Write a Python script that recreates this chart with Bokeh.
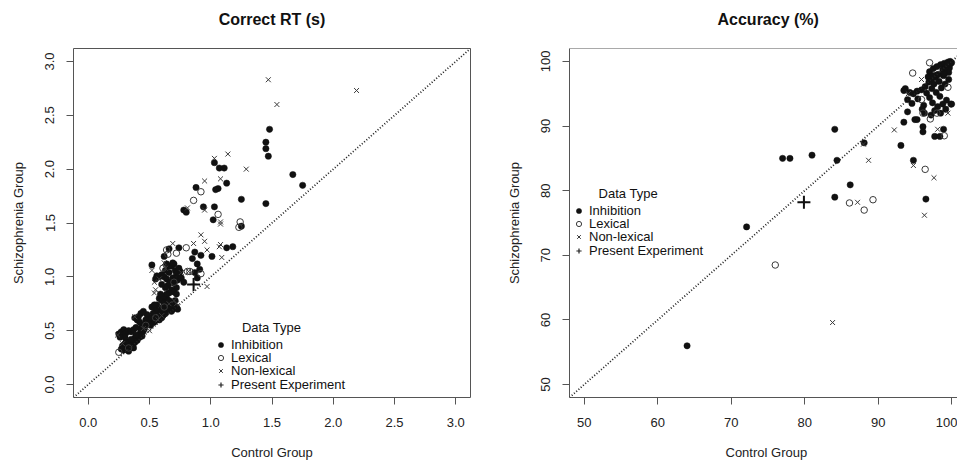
from bokeh.plotting import figure
from bokeh.layouts import row
from bokeh.models import (Range1d, Slope, Legend, LegendItem, Label, Span, Title,
                          FixedTicker, NumeralTickFormatter)
from bokeh.embed import file_html
from bokeh.resources import INLINE

FONT = "Liberation Sans"
FRAME = "#555555"
DOT = "#111111"
OPEN = "#3a3a3a"

# ---------------- data: Correct RT (s) ----------------
rt_inhibition = [
    (1.48, 2.37), (1.45, 2.25), (1.45, 2.19), (1.47, 2.12), (1.67, 1.95), (1.75, 1.85), (1.45, 1.68),
    (1.25, 1.72), (1.25, 1.47), (1.03, 2.06), (1.07, 2.01), (1.11, 2.01), (1.13, 1.87), (1.06, 1.82),
    (1.04, 1.81), (0.88, 1.83), (1.03, 1.65), (0.94, 1.65), (0.78, 1.62), (0.80, 1.60), (1.02, 1.53),
    (1.13, 1.27), (1.18, 1.28), (0.74, 1.27), (0.85, 1.17), (0.92, 1.20), (1.01, 1.19), (0.87, 1.23),
    (0.89, 1.12), (0.91, 1.07), (0.87, 1.04), (0.89, 0.99), (0.52, 1.11), (0.66, 1.26), (0.62, 1.19),
    (0.60, 1.02), (0.62, 1.00), (0.64, 0.98), (0.66, 1.04), (0.68, 1.10), (0.70, 1.12), (0.71, 1.06),
    (0.72, 1.03), (0.69, 0.99), (0.67, 0.95), (0.65, 0.92), (0.70, 0.94), (0.73, 0.97), (0.74, 1.02),
    (0.75, 1.05), (0.76, 0.99), (0.72, 0.90), (0.68, 0.88), (0.63, 0.90), (0.58, 1.00), (0.56, 1.01),
    (0.66, 1.10), (0.74, 1.08), (0.78, 0.95), (0.70, 0.86), (0.72, 0.84), (0.66, 0.85), (0.60, 0.93),
    (0.63, 1.06), (0.55, 0.98), (0.69, 1.13), (0.71, 0.97), (0.64, 1.12),
    (0.58, 0.80), (0.60, 0.78), (0.62, 0.76), (0.64, 0.80), (0.66, 0.78), (0.68, 0.76), (0.70, 0.74),
    (0.72, 0.72), (0.61, 0.72), (0.63, 0.70), (0.65, 0.73), (0.67, 0.71), (0.69, 0.70), (0.57, 0.68),
    (0.59, 0.66), (0.61, 0.64), (0.63, 0.66), (0.55, 0.70), (0.53, 0.66), (0.56, 0.62), (0.58, 0.60),
    (0.60, 0.62), (0.52, 0.60), (0.54, 0.58), (0.50, 0.62), (0.48, 0.65), (0.47, 0.60), (0.49, 0.57),
    (0.51, 0.55), (0.46, 0.56), (0.44, 0.54), (0.56, 0.74), (0.62, 0.82), (0.64, 0.84), (0.59, 0.84),
    (0.66, 0.70), (0.68, 0.68), (0.73, 0.70), (0.71, 0.78), (0.60, 0.70), (0.43, 0.66), (0.45, 0.68),
    (0.41, 0.63), (0.38, 0.62), (0.40, 0.60), (0.42, 0.58), (0.52, 0.72), (0.54, 0.74),
    (0.27, 0.33), (0.29, 0.32), (0.30, 0.35), (0.31, 0.34), (0.32, 0.37), (0.33, 0.36), (0.34, 0.39),
    (0.35, 0.38), (0.36, 0.41), (0.37, 0.40), (0.38, 0.43), (0.39, 0.42), (0.40, 0.45), (0.41, 0.44),
    (0.42, 0.47), (0.43, 0.46), (0.44, 0.49), (0.45, 0.50), (0.46, 0.52), (0.28, 0.36), (0.30, 0.38),
    (0.32, 0.33), (0.34, 0.35), (0.36, 0.37), (0.38, 0.39), (0.40, 0.41), (0.42, 0.44), (0.44, 0.45),
    (0.31, 0.40), (0.35, 0.42), (0.39, 0.46), (0.43, 0.51), (0.47, 0.55), (0.37, 0.34), (0.33, 0.31),
    (0.25, 0.47), (0.27, 0.49), (0.29, 0.51), (0.28, 0.46), (0.31, 0.48), (0.33, 0.50), (0.35, 0.49),
    (0.37, 0.51), (0.39, 0.53), (0.30, 0.44), (0.26, 0.44),
]
rt_lexical = [
    (0.92, 1.79), (0.86, 1.71), (1.06, 1.58), (1.24, 1.51), (1.23, 1.46), (0.80, 1.27), (0.72, 1.22),
    (0.64, 1.25), (0.65, 1.21), (0.61, 1.08), (0.81, 1.05), (0.83, 1.05), (0.92, 1.03), (0.25, 0.30),
    (0.62, 0.72), (0.55, 0.62), (0.33, 0.34), (0.47, 0.55), (0.70, 0.95),
]
rt_nonlexical = [
    (1.47, 2.83), (2.19, 2.73), (1.54, 2.60), (1.14, 2.14), (1.03, 2.10), (1.29, 2.00), (0.95, 1.89),
    (1.08, 1.91), (0.81, 1.64), (0.95, 1.62), (1.08, 1.51), (1.08, 1.49), (0.92, 1.39), (0.95, 1.33),
    (0.86, 1.31), (0.69, 1.31), (0.97, 1.25), (1.07, 1.28), (1.08, 1.30), (1.09, 1.18), (0.97, 0.91),
    (0.52, 1.06), (0.54, 0.95), (0.54, 0.85), (0.55, 0.88), (0.62, 1.13), (0.63, 1.08), (0.70, 0.78),
    (0.72, 0.75), (0.57, 0.60), (0.38, 0.63), (0.24, 0.46), (0.50, 0.50), (0.45, 0.52), (0.60, 0.64),
    (0.28, 0.38), (0.66, 0.75), (0.76, 1.04), (0.82, 1.05), (0.58, 0.98),
]
rt_present = [(0.86, 0.93)]
rt_ticks = [0.0, 0.5, 1.0, 1.5, 2.0, 2.5, 3.0]
rt_limits = (0.0, 3.0)

# ---------------- data: Accuracy (%) ----------------
acc_inhibition = [
    (64.0, 56.0), (72.1, 74.4), (77.0, 85.0), (78.0, 85.0), (81.0, 85.5), (84.1, 89.5), (84.4, 84.7),
    (84.1, 79.0), (86.2, 80.9), (88.1, 87.4), (93.1, 87.0), (94.8, 84.7), (96.5, 78.7),
    (97.0, 98.4), (97.5, 98.9), (98.0, 99.2), (98.5, 99.5), (99.0, 99.7), (99.5, 99.9), (99.8, 100.0),
    (99.2, 99.3), (98.8, 98.7), (98.2, 98.0), (97.8, 97.5), (97.2, 97.0), (97.6, 96.5), (98.3, 96.9),
    (98.9, 97.8), (99.4, 98.6), (99.7, 99.0), (96.8, 97.6), (97.3, 95.8), (97.9, 95.2), (98.6, 95.9),
    (99.1, 96.5), (99.6, 97.2), (98.4, 94.6), (97.0, 94.4), (96.6, 95.1), (97.4, 93.6), (98.1, 93.0),
    (98.8, 93.4), (99.3, 94.0), (99.9, 93.4), (97.7, 92.4), (98.5, 92.0), (99.2, 92.6), (96.4, 96.1),
    (95.9, 95.6), (95.3, 95.4), (94.8, 95.0), (94.3, 95.2), (93.7, 95.8), (93.5, 95.5), (94.0, 94.1),
    (94.6, 93.5), (95.4, 94.2), (96.2, 93.2), (96.3, 92.0), (96.0, 92.6), (97.2, 91.7), (94.0, 92.2),
    (93.5, 90.6), (95.0, 91.0), (95.3, 91.0), (96.1, 89.9), (96.1, 89.1), (97.7, 88.4), (98.4, 88.4),
    (98.9, 89.5), (100.0, 93.4), (99.6, 98.3), (99.0, 98.1), (98.0, 97.9), (97.5, 97.8), (96.9, 96.8),
    (99.8, 99.6), (100.0, 99.8), (99.4, 99.6),
]
acc_lexical = [
    (76.0, 68.5), (86.1, 78.1), (88.1, 77.0), (89.3, 78.6), (96.4, 83.3), (94.7, 98.2), (97.0, 99.8),
    (96.1, 92.0), (97.1, 91.1), (99.0, 88.5), (99.5, 96.0), (98.0, 92.0), (95.9, 94.1),
]
acc_nonlexical = [
    (83.8, 59.6), (87.2, 78.2), (88.7, 84.7), (88.0, 87.2), (92.2, 89.4), (94.8, 83.9), (96.3, 76.2),
    (97.6, 82.0), (98.1, 89.5), (95.9, 97.2), (94.1, 95.0), (99.5, 92.0),
]
acc_present = [(79.9, 78.2)]
acc_ticks = [50, 60, 70, 80, 90, 100]
acc_limits = (50.0, 100.0)

categories = ["Inhibition", "Lexical", "Non-lexical", "Present Experiment"]
legend_title = "Data Type"
x_title = "Control Group"
y_title = "Schizophrenia Group"

HEIGHT = 461
FRAME_TOP, FRAME_BOTTOM = 48, 397


def xs(pts):
    return [p[0] for p in pts]


def ys(pts):
    return [p[1] for p in pts]


def make_panel(title, limits, x_end, ticks, fmt, series, width, borders, title_offset):
    left, right = borders
    lo, hi = limits
    pad = 0.04 * (hi - lo)
    xr = Range1d(lo - pad, hi + pad if x_end is None else x_end)
    yr = Range1d(lo - pad, hi + pad)
    p = figure(width=width, height=HEIGHT, x_range=xr, y_range=yr, title=None,
               output_backend="svg", toolbar_location=None,
               min_border_left=left, min_border_right=right,
               min_border_top=FRAME_TOP, min_border_bottom=HEIGHT - FRAME_BOTTOM,
               background_fill_color="white", border_fill_color="white")
    p.grid.visible = False
    p.outline_line_color = FRAME
    for ax in (p.xaxis[0], p.yaxis[0]):
        ax.ticker = FixedTicker(ticks=ticks)
        if fmt:
            ax.formatter = NumeralTickFormatter(format=fmt)
        ax.axis_line_color = None
        ax.major_tick_line_color = FRAME
        ax.major_tick_in = 0
        ax.major_tick_out = 7
        ax.minor_tick_line_color = None
        ax.major_label_text_font = FONT
        ax.major_label_text_font_size = "13px"
        ax.major_label_text_color = "#222222"
        ax.axis_label_text_font = FONT
        ax.axis_label_text_font_size = "13px"
        ax.axis_label_text_font_style = "normal"
        ax.axis_label_text_color = "#222222"
    p.xaxis.major_label_standoff = 13
    p.yaxis.major_label_standoff = 12
    p.yaxis.major_label_orientation = "vertical"
    p.yaxis.axis_label = y_title
    p.yaxis.axis_label_standoff = 17

    align = "center" if title_offset is None else "left"
    off = 0 if title_offset is None else title_offset[0]
    p.add_layout(Title(text=title, align=align, offset=off, standoff=10,
                       padding=dict(left=0, right=0, top=0, bottom=16),
                       text_font=FONT, text_font_size="16px", text_font_style="bold",
                       text_color="#111111"), "above")
    off = 0 if title_offset is None else title_offset[1]
    p.add_layout(Title(text=x_title, align=align, offset=off, standoff=0,
                       padding=dict(left=0, right=0, top=13, bottom=0),
                       text_font=FONT, text_font_size="13px", text_font_style="normal",
                       text_color="#222222"), "below")

    p.add_layout(Slope(gradient=1, y_intercept=0, line_color="#222222",
                       line_width=1.8, line_dash="1 2"))

    inh, lex, non, pres = series
    r_inh = p.scatter(xs(inh), ys(inh), marker="circle", size=6.3,
                      fill_color=DOT, line_color=DOT, line_width=0.5)
    r_lex = p.scatter(xs(lex), ys(lex), marker="circle", size=6.5,
                      fill_color=None, line_color=OPEN, line_width=1)
    r_non = p.scatter(xs(non), ys(non), marker="x", size=7,
                      line_color=OPEN, line_width=1)
    # thin copy of the present-experiment point, used as the legend key
    r_pres_leg = p.scatter(xs(pres), ys(pres), marker="cross", size=6,
                           line_color="#222222", line_width=1.2)
    p.scatter(xs(pres), ys(pres), marker="cross", size=13,
              line_color="#111111", line_width=2)
    ppu = (FRAME_BOTTOM - FRAME_TOP) / (yr.end - yr.start)
    return p, [r_inh, r_lex, r_non, r_pres_leg], ppu


def add_legend(p, renderers, x0, top_center, title_x, ppu):
    # one legend per row so that the row pitch matches the reference (13.4 px)
    pitch = 13.4
    for i, (c, r) in enumerate(zip(categories, renderers)):
        center = top_center + i * pitch
        leg = Legend(items=[LegendItem(label=c, renderers=[r])],
                     location=(x0, FRAME_BOTTOM - center - 7.5),
                     border_line_color=None, background_fill_alpha=0,
                     padding=0, margin=0, spacing=0,
                     glyph_width=13, glyph_height=15, label_height=13, label_standoff=4,
                     label_text_font=FONT, label_text_font_size="13px",
                     label_text_color="#111111")
        p.add_layout(leg)
    ty = p.y_range.start + (FRAME_BOTTOM - (top_center - 17.5)) / ppu
    p.add_layout(Label(x=title_x, y=ty, text=legend_title,
                       text_align="center", text_baseline="middle",
                       text_font=FONT, text_font_size="13px", text_color="#111111"))


p1, r1, ppu1 = make_panel("Correct RT (s)", rt_limits, None, rt_ticks, "0.0",
                          (rt_inhibition, rt_lexical, rt_nonlexical, rt_present), 477, (73, 7),
                          None)
add_legend(p1, r1, 141, 344.0, 1.496, ppu1)

p2, r2, ppu2 = make_panel("Accuracy (%)", acc_limits, 100.8, acc_ticks, None,
                          (acc_inhibition, acc_lexical, acc_nonlexical, acc_present), 480, (92, 0),
                          (148, 156))
p2.outline_line_color = None
p2.xaxis.axis_line_color = FRAME
p2.yaxis.axis_line_color = FRAME
p2.add_layout(Span(location=p2.y_range.end, dimension="width", line_color=FRAME, line_width=1))
add_legend(p2, r2, 3, 210.0, 55.99, ppu2)

layout = row(p1, p2)
open("out.html", "w").write(file_html(layout, INLINE))
